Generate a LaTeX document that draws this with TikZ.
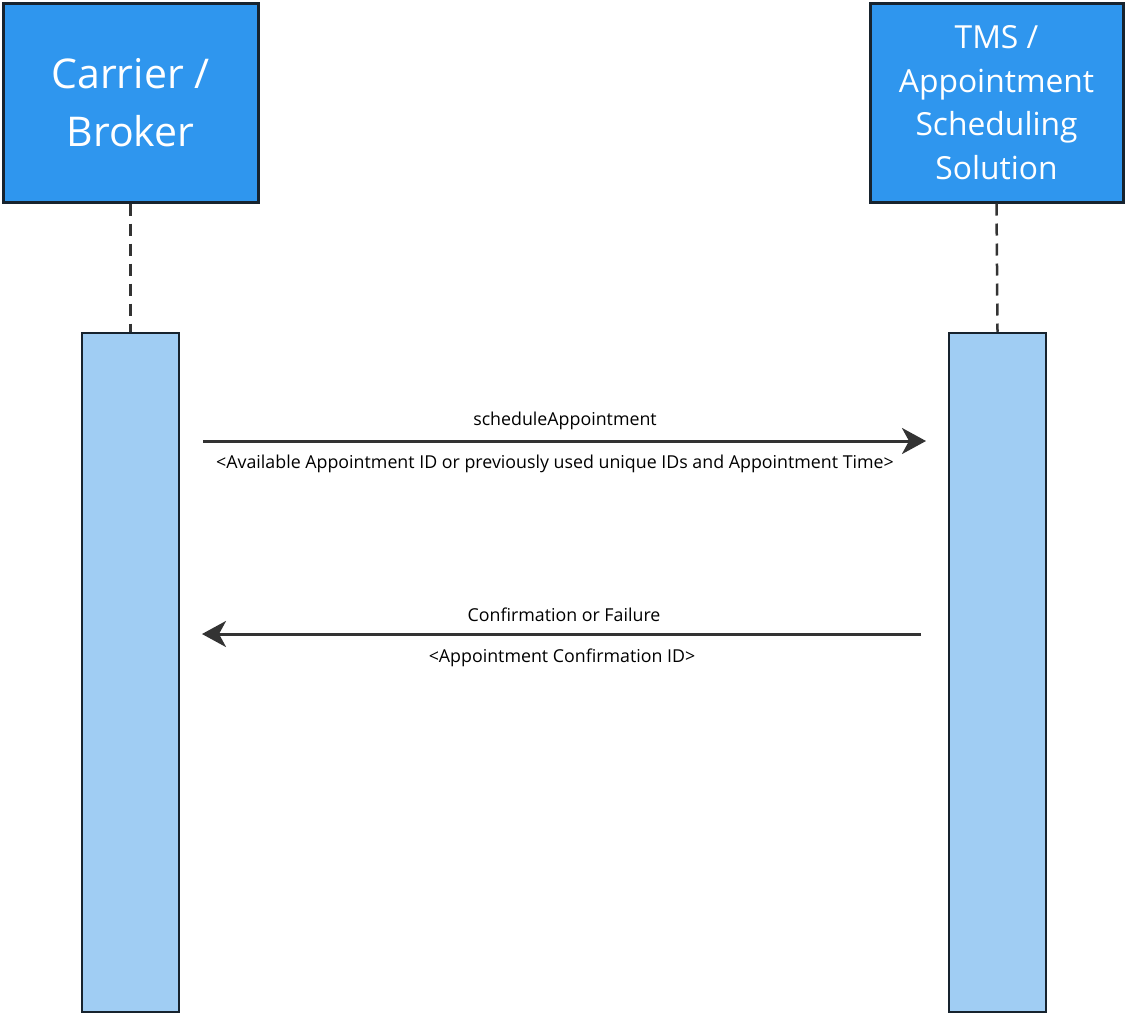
\documentclass[tikz,border=0pt]{standalone}
\usepackage{fontspec}
\setmainfont{Open Sans}
\usetikzlibrary{arrows.meta}
\definecolor{hdr}{HTML}{2F96EE}
\definecolor{act}{HTML}{A0CDF3}
\definecolor{edge}{HTML}{17232E}
\definecolor{ink}{HTML}{333333}
\tikzset{
  header/.style={draw=edge, line width=3pt, fill=hdr, text=white, align=center, inner sep=0pt},
  activation/.style={draw=edge, line width=2.5pt, fill=act, inner sep=0pt},
  lifeline/.style={draw=ink, line width=2.5pt, dash pattern=on 12pt off 8pt},
  msg/.style={draw=ink, line width=3pt, -{Stealth[length=24pt,width=26pt,inset=7pt]}},
  lbl/.style={text=black, font=\fontsize{17.8}{20}\selectfont, inner sep=0pt}
}
\begin{document}
\begin{tikzpicture}[x=1pt,y=-1pt]
\useasboundingbox (0,0) rectangle (1126,1015);
\node[header, minimum width=255pt, minimum height=199pt, font=\fontsize{41}{58}\selectfont] (carrier) at (130.5,102.5) {Carrier /\\Broker};
\node[header, minimum width=253pt, minimum height=199pt, font=\fontsize{31.8}{43.5}\selectfont] (tms) at (996.5,102.5) {TMS /\\Appointment\\Scheduling\\Solution};
\node[activation, minimum width=97pt, minimum height=679pt] (actL) at (130.5,672.5) {};
\node[activation, minimum width=97pt, minimum height=679pt] (actR) at (997.5,672.5) {};
\draw[lifeline] (carrier.south) -- (actL.north);
\draw[lifeline] (tms.south) -- (actR.north);
\coordinate (a1s) at (203,441);
\coordinate (a1e) at (926,441);
\coordinate (a2s) at (921,634);
\coordinate (a2e) at (202,634);
\draw[msg] (a1s) -- (a1e);
\draw[msg] (a2s) -- (a2e);
\node[lbl] (l1) at (565,421) {scheduleAppointment};
\node[lbl] (l1b) at (555,464) {<Available Appointment ID or previously used unique IDs and Appointment Time>};
\node[lbl] (l2) at (564,615) {Confirmation or Failure};
\node[lbl] (l2b) at (562,658) {<Appointment Confirmation ID>};
\end{tikzpicture}
\end{document}
